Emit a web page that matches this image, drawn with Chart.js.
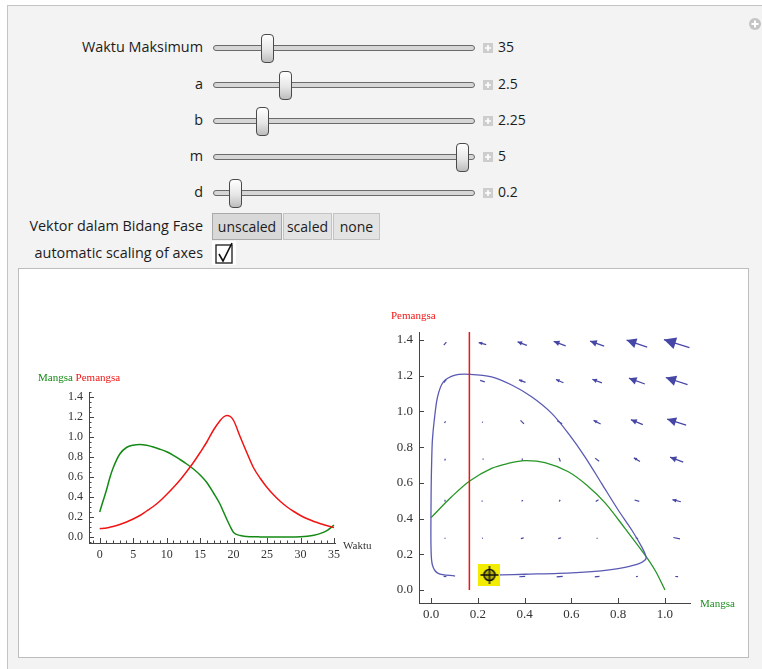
<!DOCTYPE html>
<html>
<head>
<meta charset="utf-8">
<script src="https://cdn.jsdelivr.net/npm/chart.js@4.4.0/dist/chart.umd.min.js"></script>
<style>
  body { margin: 0; background: #fff; font-family: "Open Sans", "Noto Sans", sans-serif; color: #1c1c1c; }
  #page { position: relative; width: 762px; height: 669px; overflow: hidden; }
  .outer { position: absolute; left: 7px; top: 5px; width: 800px; height: 700px; background: #f3f3f3; border: 1px solid #c4c4c4; }
  .lbl { position: absolute; right: 559px; height: 20px; line-height: 20px; font-size: 14.4px; white-space: nowrap; }
  .track { position: absolute; left: 213px; width: 260px; height: 4px; background: #d6d6d6; border: 1px solid #6a6a6a; border-radius: 3px; }
  .knob { position: absolute; width: 11px; height: 27px; border: 1px solid #4a4a4a; border-radius: 4px; background: linear-gradient(#ffffff, #e6e6e6 55%, #bdbdbd); }
  .pbox { position: absolute; left: 483px; width: 10px; height: 10px; }
  .val { position: absolute; left: 498px; height: 20px; line-height: 20px; font-size: 14px; }
  .btn { position: absolute; top: 213px; height: 25px; line-height: 25px; font-size: 14px; text-align: center; background: #e3e3e3; border: 1px solid #c3c3c3; }
  .btn.on { background: #d8d8d8; border-color: #a9a9a9; }
  .inner { position: absolute; left: 18px; top: 268px; width: 729px; height: 388px; background: #fff; border: 1px solid #bdbdbd; }
  canvas { position: absolute; }
  .txt { position: absolute; font-family: "Liberation Serif", "DejaVu Serif", serif; font-size: 11px; white-space: nowrap; }
</style>
</head>
<body>
<div id="page">
  <div class="outer"></div>
  <svg style="position:absolute;left:748px;top:17px" width="14" height="14">
    <circle cx="7" cy="7" r="6" fill="#c4c4c4"/>
    <path d="M7 3.5v7M3.5 7h7" stroke="#fff" stroke-width="2"/>
  </svg>

  <div class="lbl" style="top:37px">Waktu Maksimum</div>
  <div class="lbl" style="top:74px">a</div>
  <div class="lbl" style="top:110px">b</div>
  <div class="lbl" style="top:146px">m</div>
  <div class="lbl" style="top:182px">d</div>

  <div class="track" style="top:45px"></div>
  <div class="track" style="top:82px"></div>
  <div class="track" style="top:118px"></div>
  <div class="track" style="top:154px"></div>
  <div class="track" style="top:190px"></div>

  <div class="knob" style="left:261px;top:34px"></div>
  <div class="knob" style="left:279px;top:71px"></div>
  <div class="knob" style="left:256px;top:107px"></div>
  <div class="knob" style="left:456px;top:143px"></div>
  <div class="knob" style="left:229px;top:179px"></div>

  <svg class="pbox" style="top:43px" viewBox="0 0 10 10"><rect width="10" height="10" fill="#cdcdcd"/><path d="M5 2v6M2 5h6" stroke="#fff" stroke-width="1.6"/></svg>
  <svg class="pbox" style="top:80px" viewBox="0 0 10 10"><rect width="10" height="10" fill="#cdcdcd"/><path d="M5 2v6M2 5h6" stroke="#fff" stroke-width="1.6"/></svg>
  <svg class="pbox" style="top:116px" viewBox="0 0 10 10"><rect width="10" height="10" fill="#cdcdcd"/><path d="M5 2v6M2 5h6" stroke="#fff" stroke-width="1.6"/></svg>
  <svg class="pbox" style="top:152px" viewBox="0 0 10 10"><rect width="10" height="10" fill="#cdcdcd"/><path d="M5 2v6M2 5h6" stroke="#fff" stroke-width="1.6"/></svg>
  <svg class="pbox" style="top:188px" viewBox="0 0 10 10"><rect width="10" height="10" fill="#cdcdcd"/><path d="M5 2v6M2 5h6" stroke="#fff" stroke-width="1.6"/></svg>

  <div class="val" style="top:37px">35</div>
  <div class="val" style="top:74px">2.5</div>
  <div class="val" style="top:110px">2.25</div>
  <div class="val" style="top:146px">5</div>
  <div class="val" style="top:182px">0.2</div>

  <div class="lbl" style="top:216px">Vektor dalam Bidang Fase</div>
  <div class="btn on" style="left:212px;width:68px">unscaled</div>
  <div class="btn" style="left:283px;width:47px">scaled</div>
  <div class="btn" style="left:333px;width:45px">none</div>

  <div class="lbl" style="top:243px">automatic scaling of axes</div>
  <div style="position:absolute;left:212px;top:241px;width:24px;height:24px;background:#fff"></div>
  <svg style="position:absolute;left:215px;top:242px" width="19" height="22">
    <rect x="1" y="3" width="16" height="18" fill="none" stroke="#2a2a2a" stroke-width="1.4"/>
    <path d="M4 12l4 7 9-18" fill="none" stroke="#111" stroke-width="1.6"/>
  </svg>

  <div class="inner"></div>

  <canvas id="timeChart" width="320" height="200" style="left:30px;top:370px"></canvas>
  <canvas id="phaseChart" width="380" height="330" style="left:380px;top:300px"></canvas>

  <div class="txt" style="left:38px;top:371px"><span style="color:#148a14">Mangsa</span> <span style="color:#f01414">Pemangsa</span></div>
  <div class="txt" style="left:343px;top:539px;color:#333">Waktu</div>
  <div class="txt" style="left:391px;top:309px;color:#f01414">Pemangsa</div>
  <div class="txt" style="left:700px;top:597px;color:#1f8f1f">Mangsa</div>
</div>

<script>
// time series (left plot)
const timeT = [0, 0.5, 1, 1.5, 2, 3, 4, 5, 6, 7, 8, 9, 10, 11, 12, 13, 14, 15, 16, 17, 18, 18.5, 19, 19.5, 20, 21, 22, 23, 24, 25, 26, 27, 28, 29, 30, 31, 32, 33, 34, 35];
const preyValues = [0.25, 0.36, 0.467, 0.59, 0.69, 0.83, 0.895, 0.918, 0.924, 0.917, 0.9, 0.878, 0.852, 0.817, 0.775, 0.73, 0.68, 0.62, 0.545, 0.44, 0.325, 0.25, 0.175, 0.105, 0.045, 0.015, 0.005, 0.002, 0.001, 0, 0, 0, 0, 0.001, 0.003, 0.008, 0.018, 0.036, 0.066, 0.12];
const predatorValues = [0.083, 0.086, 0.09, 0.097, 0.105, 0.125, 0.15, 0.18, 0.215, 0.26, 0.305, 0.36, 0.425, 0.495, 0.57, 0.655, 0.745, 0.845, 0.95, 1.07, 1.165, 1.2, 1.215, 1.205, 1.165, 1.0, 0.84, 0.69, 0.585, 0.495, 0.42, 0.355, 0.3, 0.255, 0.215, 0.182, 0.155, 0.133, 0.113, 0.095];
const timeTicks = [0, 5, 10, 15, 20, 25, 30, 35];
const levelTicks = [0, 0.2, 0.4, 0.6, 0.8, 1.0, 1.2, 1.4];

// phase plane (right plot)
const orbitPrey = [0.25, 0.302, 0.402, 0.544, 0.687, 0.77, 0.829, 0.886, 0.915, 0.919, 0.9, 0.858, 0.8, 0.729, 0.658, 0.587, 0.516, 0.43, 0.345, 0.259, 0.167, 0.103, 0.053, 0.028, 0.014, 0.006, 0.003, 0.001, 0, 0, 0.006, 0.031, 0.103];
const orbitPredator = [0.084, 0.084, 0.088, 0.093, 0.103, 0.114, 0.127, 0.146, 0.168, 0.187, 0.243, 0.336, 0.448, 0.597, 0.746, 0.877, 0.989, 1.082, 1.148, 1.194, 1.208, 1.204, 1.166, 1.082, 0.952, 0.84, 0.728, 0.6, 0.448, 0.243, 0.14, 0.093, 0.078];
const preyNullX = [0, 0.088, 0.167, 0.259, 0.33, 0.402, 0.487, 0.587, 0.672, 0.744, 0.829, 0.915, 0.96, 1.0];
const preyNullY = [0.405, 0.522, 0.612, 0.681, 0.709, 0.724, 0.713, 0.662, 0.58, 0.488, 0.345, 0.195, 0.105, 0];
const predatorNullX = 0.164;
const startPoint = [0.25, 0.084];
const phaseXTicks = [0, 0.2, 0.4, 0.6, 0.8, 1.0];
const phaseYTicks = [0, 0.2, 0.4, 0.6, 0.8, 1.0, 1.2, 1.4];

// vector field grid and arrows (data units)
const fieldX = [0.06, 0.22, 0.39, 0.55, 0.71, 0.88, 1.05];
const fieldY = [1.38, 1.17, 0.94, 0.73, 0.5, 0.29, 0.075];
const fieldU = [
  [-0.011, -0.032, -0.04, -0.051, -0.06, -0.088, -0.109],
  [-0.01, -0.02, -0.028, -0.032, -0.041, -0.068, -0.093],
  [-0.005, -0.004, -0.015, -0.021, -0.03, -0.051, -0.081],
  [-0.003, 0.002, 0, -0.006, -0.017, -0.026, -0.056],
  [0.001, 0, 0.006, 0.004, 0.012, -0.02, -0.036],
  [0.002, 0.004, 0.012, 0.012, 0.004, -0.01, -0.028],
  [0.012, 0.02, 0.025, 0.026, 0.02, 0.008, -0.012]
];
const fieldV = [
  [-0.017, 0.011, 0.02, 0.025, 0.028, 0.039, 0.045],
  [-0.016, 0.008, 0.014, 0.018, 0.02, 0.033, 0.04],
  [-0.008, 0.002, 0.02, 0.017, 0.02, 0.028, 0.034],
  [-0.01, 0.002, 0.012, 0.02, 0.017, 0.02, 0.028],
  [-0.011, 0, 0.006, 0.009, 0.01, 0.008, 0.012],
  [-0.005, 0.001, 0.004, 0.005, 0.003, 0.006, 0.008],
  [-0.002, 0, 0.002, 0.003, 0.003, 0.002, 0.001]
];

const axisColor = '#444';
const labelColor = '#333';

// Mathematica-style ticks that point into the plot
const inwardTicks = {
  id: 'inwardTicks',
  afterDatasetsDraw(chart, args, opts) {
    const { ctx, chartArea, scales } = chart;
    const xs = scales.x, ys = scales.y;
    ctx.save();
    ctx.strokeStyle = axisColor;
    ctx.lineWidth = 1;
    ctx.beginPath();
    const walk = (scale, step, len, vertical) => {
      if (!step) return;
      const first = Math.ceil(scale.min / step - 1e-9);
      const last = Math.floor(scale.max / step + 1e-9);
      for (let k = first; k <= last; k++) {
        const p = Math.round(scale.getPixelForValue(k * step)) + 0.5;
        if (vertical) {
          ctx.moveTo(chartArea.left, p);
          ctx.lineTo(chartArea.left + len, p);
        } else {
          ctx.moveTo(p, chartArea.bottom);
          ctx.lineTo(p, chartArea.bottom - len);
        }
      }
    };
    walk(xs, opts.xMinor, 2.5, false);
    walk(xs, opts.xMajor, 5, false);
    walk(ys, opts.yMinor, 2.5, true);
    walk(ys, opts.yMajor, 5, true);
    ctx.stroke();
    ctx.restore();
  }
};

const vectorField = {
  id: 'vectorField',
  beforeDatasetsDraw(chart) {
    const { ctx, scales: { x, y } } = chart;
    ctx.save();
    ctx.strokeStyle = '#4646a6';
    ctx.fillStyle = '#4646a6';
    ctx.lineWidth = 1.2;
    fieldY.forEach((gy, r) => {
      fieldX.forEach((gx, c) => {
        const u = fieldU[r][c], v = fieldV[r][c];
        const x0 = x.getPixelForValue(gx - u / 2), y0 = y.getPixelForValue(gy - v / 2);
        const x1 = x.getPixelForValue(gx + u / 2), y1 = y.getPixelForValue(gy + v / 2);
        const len = Math.hypot(x1 - x0, y1 - y0);
        if (len < 0.6) {
          ctx.fillRect(Math.round(x1) - 0.5, Math.round(y1) - 0.5, 1.2, 1.2);
          return;
        }
        ctx.beginPath();
        ctx.moveTo(x0, y0);
        ctx.lineTo(x1, y1);
        ctx.stroke();
        if (len > 7) {
          const ux = (x1 - x0) / len, uy = (y1 - y0) / len;
          const hl = Math.min(len * 0.45, 12);
          const hw = hl * 0.5;
          const bx = x1 - ux * hl, by = y1 - uy * hl;
          ctx.beginPath();
          ctx.moveTo(x1, y1);
          ctx.lineTo(bx - uy * hw, by + ux * hw);
          ctx.lineTo(bx + uy * hw, by - ux * hw);
          ctx.closePath();
          ctx.fill();
        }
      });
    });
    ctx.restore();
  }
};

const serif = (size) => ({ family: '"Liberation Serif", "DejaVu Serif", serif', size: size });

const makeScale = (min, max, ticks, fmt, fontSize, pad, fitKey, fitSize) => ({
  type: 'linear',
  min: min,
  max: max,
  grid: { display: false, drawTicks: false },
  border: { display: true, color: axisColor, width: 1 },
  afterBuildTicks: s => { s.ticks = ticks.map(v => ({ value: v })); },
  afterFit: s => { s[fitKey] = fitSize; },
  ticks: {
    autoSkip: false,
    maxRotation: 0,
    padding: pad,
    color: labelColor,
    font: serif(fontSize),
    callback: fmt
  }
});

const oneDecimal = v => Number(v).toFixed(1);

new Chart(document.getElementById('timeChart'), {
  type: 'scatter',
  data: {
    datasets: [
      {
        data: timeT.map((t, i) => ({ x: t, y: predatorValues[i] })),
        showLine: true,
        borderColor: '#f01414',
        borderWidth: 1.5,
        pointRadius: 0,
        cubicInterpolationMode: 'monotone'
      },
      {
        data: timeT.map((t, i) => ({ x: t, y: preyValues[i] })),
        showLine: true,
        borderColor: '#148a14',
        borderWidth: 1.5,
        pointRadius: 0,
        cubicInterpolationMode: 'monotone'
      }
    ]
  },
  options: {
    responsive: false,
    animation: false,
    devicePixelRatio: 1,
    layout: { padding: { top: 22, right: 15, left: 0, bottom: 0 } },
    plugins: {
      legend: { display: false },
      tooltip: { enabled: false },
      inwardTicks: { xMajor: 5, xMinor: 1, yMajor: 0.2, yMinor: 0.05 }
    },
    scales: {
      x: makeScale(-1.6, 35.15, timeTicks, v => String(v), 12, 5, 'height', 27),
      y: makeScale(-0.06, 1.45, levelTicks, oneDecimal, 12, 6, 'width', 59)
    }
  },
  plugins: [inwardTicks]
});

function makeLocator() {
  const c = document.createElement('canvas');
  c.width = 22;
  c.height = 22;
  const g = c.getContext('2d');
  g.fillStyle = '#f2ec00';
  g.fillRect(0, 0, 22, 22);
  g.fillStyle = '#b9b000';
  g.beginPath();
  g.arc(11, 11, 4.5, 0, Math.PI * 2);
  g.fill();
  g.strokeStyle = '#111';
  g.lineWidth = 1.6;
  g.beginPath();
  g.arc(11, 11, 5.5, 0, Math.PI * 2);
  g.stroke();
  g.lineWidth = 1.4;
  g.beginPath();
  g.moveTo(11, 2); g.lineTo(11, 20);
  g.moveTo(2, 11); g.lineTo(20, 11);
  g.stroke();
  return c;
}

new Chart(document.getElementById('phaseChart'), {
  type: 'scatter',
  data: {
    datasets: [
      {
        data: [{ x: startPoint[0], y: startPoint[1] }],
        pointStyle: makeLocator(),
        pointRadius: 11
      },
      {
        data: [{ x: predatorNullX, y: 0 }, { x: predatorNullX, y: 1.446 }],
        showLine: true,
        borderColor: '#f01414',
        borderWidth: 1.5,
        pointRadius: 0
      },
      {
        data: orbitPrey.map((p, i) => ({ x: p, y: orbitPredator[i] })),
        showLine: true,
        borderColor: '#5a5ab4',
        borderWidth: 1.3,
        pointRadius: 0,
        tension: 0.3
      },
      {
        data: preyNullX.map((p, i) => ({ x: p, y: preyNullY[i] })),
        showLine: true,
        borderColor: '#259525',
        borderWidth: 1.3,
        pointRadius: 0,
        tension: 0.35
      }
    ]
  },
  options: {
    responsive: false,
    animation: false,
    devicePixelRatio: 1,
    layout: { padding: { top: 32, right: 70, left: 0, bottom: 0 } },
    plugins: {
      legend: { display: false },
      tooltip: { enabled: false },
      inwardTicks: { xMajor: 0.2, yMajor: 0.2 }
    },
    scales: {
      x: makeScale(-0.0513, 1.107, phaseXTicks, oneDecimal, 13, 4, 'height', 27),
      y: makeScale(-0.073, 1.445, phaseYTicks, oneDecimal, 13, 6, 'width', 39)
    }
  },
  plugins: [vectorField, inwardTicks]
});
</script>
</body>
</html>
